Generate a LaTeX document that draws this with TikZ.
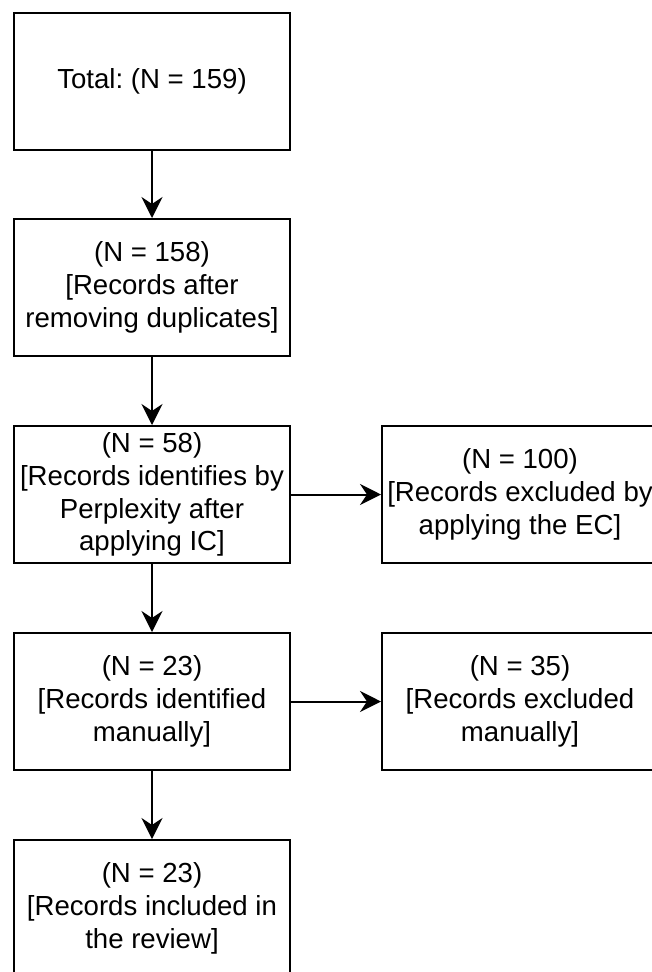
\documentclass[tikz,border=0pt]{standalone}
\usepackage{fontspec}
\setmainfont{Liberation Sans}
\usetikzlibrary{arrows.meta}
\frenchspacing
\begin{document}
\begin{tikzpicture}[x=1pt,y=-1pt,
  stagebox/.style={draw=black, line width=2pt, fill=white,
    minimum width=276pt, minimum height=137pt, inner sep=0pt,
    align=center, font=\fontsize{27.6}{32.8}\selectfont},
  flow/.style={line width=2pt, -{Stealth[length=21pt,width=21pt,inset=7pt]}}]
\useasboundingbox (0,0) rectangle (651,972);
% main column
\node[stagebox] (total)    at (152,81.5)  {Total: (N = 159)};
\node[stagebox] (dedup)    at (152,287.5) {(N = 158)\\{[}Records after\\removing duplicates]};
\node[stagebox] (ident)    at (152,494.5) {(N = 58)\\{[}Records identifies by\\Perplexity after\\applying IC]};
\node[stagebox] (manual)   at (152,701.5) {(N = 23)\\{[}Records identified\\manually]};
\node[stagebox] (included) at (152,908.5) {(N = 23)\\{[}Records included in\\the review]};
% exclusions
\node[stagebox] (excEC)    at (520,494.5) {(N = 100)\\{[}Records excluded by\\applying the EC]};
\node[stagebox] (excMan)   at (520,701.5) {(N = 35)\\{[}Records excluded\\manually]};
% connectors
\draw[flow] (total)  -- (dedup);
\draw[flow] (dedup)  -- (ident);
\draw[flow] (ident)  -- (manual);
\draw[flow] (manual) -- (included);
\draw[flow] (ident)  -- (excEC);
\draw[flow] (manual) -- (excMan);
\end{tikzpicture}
\end{document}
